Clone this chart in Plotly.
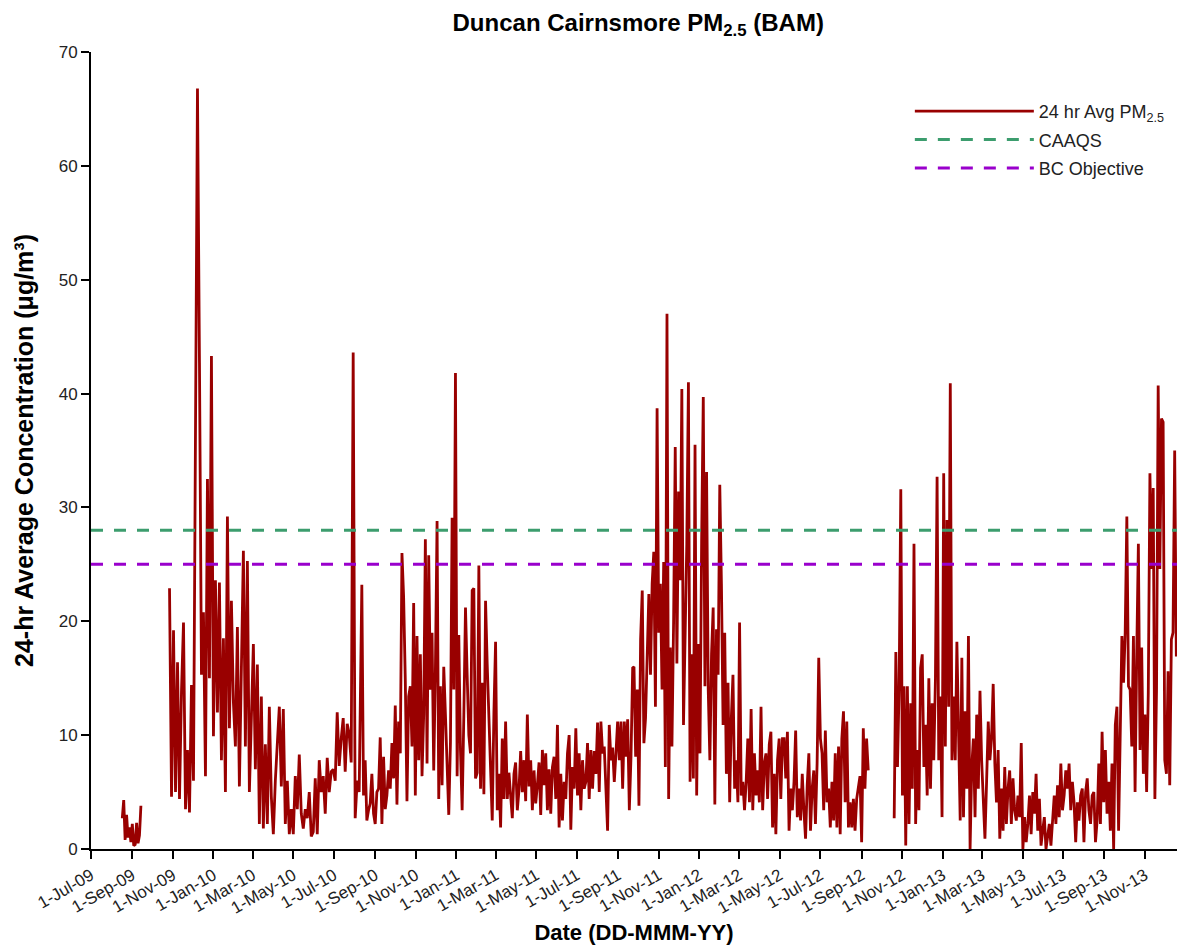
import plotly.graph_objects as go
import pandas as pd

# ---- data (24-hr average PM2.5, µg/m³) ----
seg_a_start, seg_a_end = "2009-08-17", "2009-09-14"
seg_a_values = [2.7, 4.3, 0.8, 3.0, 1.0, 1.9, 0.6, 2.2, 0.3, 0.4, 2.3, 0.5, 1.2, 3.8]

seg_b1_start, seg_b1_end = "2009-10-27", "2010-08-08"
seg_b1_values = [
    22.9, 4.6, 19.2, 5, 16.4, 4.4, 13.9, 19.9, 3.5, 8.7, 3.2, 14.4, 6, 40.4, 66.8, 42.7,
    15.3, 20.8, 6.4, 32.5, 15, 43.3, 9.9, 23.6, 12, 23.4, 7.8, 18.5, 5, 29.2, 10.6, 21.8,
    12.9, 9, 19.5, 5.5, 14.8, 26.2, 9, 25.3, 5, 12.9, 18, 7, 16.2, 2.2, 13.4, 1.8,
    9.2, 2.2, 12.5, 4.6, 1.3, 6, 9, 12.5, 5.5, 12.3, 2.2, 6, 1.3, 3.5, 1.3, 6.4,
    3.5, 8.3, 3.1, 1.8, 3.5, 2.7, 5, 1.1, 1.5, 6.2, 1.3, 7.8, 5, 6.4, 3.1, 8,
    5, 6.8, 7, 6, 12, 7.3, 9.7, 11.5, 6.8, 11, 10.1, 7.6, 43.6, 2.7, 6, 5,
]

seg_b2a_start, seg_b2a_end = "2010-08-12", "2011-09-23"
seg_b2a_values = [
    23.2, 4.7, 7.8, 2.5, 3.4, 4.0, 6.6, 3.1, 2.2, 5.0, 5.3, 9.8, 2.2, 8.1, 3.5, 4.7,
    6.9, 5.3, 9.3, 6.2, 12.6, 3.9, 11.2, 8.4, 26, 22.1, 14.8, 4.2, 13.4, 14.3, 9, 21.6,
    4.7, 18.7, 7.8, 17.1, 6.4, 11.8, 27.2, 7.5, 25.8, 14, 19, 6.9, 15.6, 28.8, 4.4, 14.3,
    5.6, 16, 11.8, 7.8, 3, 9.3, 29.1, 14, 41.8, 6.4, 18.8, 8.7, 3.4, 11.7, 21.2, 15.3,
    10, 8.4, 22.7, 22.9, 6.2, 6.7, 24.9, 5.3, 14.6, 4.8, 21.8, 16.2, 11.8, 8.7, 2.5, 12,
    18.2, 3.4, 6.6, 1.9, 9.7, 4.4, 11.2, 4.4, 6.7, 4.7, 2.7, 6.6, 7.6, 3.4, 5.2, 8.6,
    5, 7.8, 4.2, 11.8, 5.5, 7.8, 3.4, 6.9, 4, 5.6, 7.6, 3, 8.7, 5.6, 8.4, 3.4,
    7, 3.1, 7.2, 8.1, 4.4, 10.9, 1.9, 6.6, 2.5, 5.9, 4.4, 8.4, 10, 1.7, 7.2, 5.3,
    10.6, 4.7, 8.4, 3.4, 7.8, 5.3, 5.9, 9.3, 4.4, 8.7, 5.3, 8.6, 6.6, 11.1, 5, 11.2,
    8.4, 9, 5.8, 1.6, 10.9, 7.8, 8.9, 5.9, 8.4, 11.2, 7.8, 11.2, 5.3, 11.2, 8.1, 11.4,
    3.4, 8.1, 15.9,
]

seg_b2b_start, seg_b2b_end = "2011-09-25", "2012-09-11"
seg_b2b_values = [
    16, 8.1, 14, 3.8, 18.4, 22.7, 9.3, 11.5, 17.1, 22.4, 15.3, 23.3, 26.1, 12.5, 38.7, 19,
    23.3, 14, 25.2, 7.2, 47, 4.4, 17.7, 9, 19.9, 35.3, 16.3, 31.4, 23.6, 40.4, 10.9, 20.2,
    26.8, 41, 5.9, 17.1, 6.2, 35.5, 4.7, 18, 8.4, 27.1, 39.7, 14.3, 33.1, 14, 7.8, 17.1,
    21.2, 3.9, 19.3, 15.3, 32, 23.3, 10.9, 19, 6.6, 14.6, 4.1, 11.5, 15.3, 5.3, 7.8, 4.1,
    19.9, 4.7, 5.9, 3.4, 5.9, 9.7, 4.1, 12.3, 3.4, 8.4, 4.7, 6.9, 4.1, 12.5, 3.4, 7.5,
    8.4, 4.4, 9.2, 10.3, 1.9, 6.6, 1.3, 7.8, 9.7, 4.4, 9.7, 9.7, 6.2, 10.3, 1.6, 5.3,
    3.4, 5.9, 10.4, 2.8, 5.3, 2.5, 6.6, 3.4, 0.9, 5.6, 8.4, 1.6, 5.3, 6.9, 2.2, 7.5,
    16.8, 9.7, 8.4, 3.4, 10.4, 4.1, 5.3, 1.9, 5.9, 2.5, 8.4, 1.9, 9, 1.3, 9.7, 12.1,
    4.1, 11.2, 1.9, 4.1, 1.9, 4.4, 1.6, 4.4, 5.3, 6.4, 0.6, 10.6, 5.3, 9.7, 6.9,
]

seg_c_start, seg_c_end = "2012-10-20", "2013-12-18"
seg_c_values = [
    2.7, 17.3, 7.2, 14.3, 31.6, 4.7, 14.3, 0.3, 14.3, 2.2, 12.8, 5.3, 26.8, 2.2, 8.7, 3.4,
    15.9, 17.1, 7.2, 10.9, 4.7, 15, 5.3, 12.8, 7.8, 15, 32.7, 7.8, 13.4, 2.8, 33, 9,
    28.9, 12.5, 40.9, 7.8, 13.4, 7.8, 18.2, 10.6, 2.5, 16.8, 2.8, 12.1, 5.3, 18.7, 0, 7.2,
    9.7, 2.8, 11.8, 5.3, 13.9, 7.8, 3.4, 0.9, 5.9, 11.2, 7.8, 9.7, 14.5, 7.5, 4.1, 8.7,
    0.9, 5.3, 1.6, 7.2, 2.2, 5.3, 6.9, 2.2, 6.2, 3.4, 2.5, 4.7, 2.8, 9.3, 0, 2.8,
    0.6, 2.2, 4.7, 1.3, 5, 3.1, 6.6, 1.6, 4.4, 0.3, 1.6, 2.8, 0, 1.3, 2.2, 0.3,
    2.8, 4.7, 2.2, 5.6, 2.8, 7.5, 3.4, 4.7, 6.9, 5.3, 7.5, 3.4, 5.9, 4.1, 0.6, 4.1,
    2.5, 4.7, 5.3, 0.6, 5, 6.2, 3.4, 2.2, 4.7, 5, 0.6, 2.5, 7.5, 2.2, 10.3, 4.1,
    8.7, 3.1, 5.9, 1.6, 7.5, 0, 10.9, 12.5, 1.6, 12.5, 18.7, 14.6, 19, 29.2, 14.3, 14,
    9, 18.7, 5, 17.1, 26.8, 8.7, 17.7, 6.6, 11.8, 5, 13.7, 33, 24.6, 31.7, 4.4, 14,
    40.7, 24.6, 37.8, 37.5, 7.8, 6.6, 15.6, 5.6, 18.4, 19, 35, 16.9,
]

caaqs_value = 28
bc_objective_value = 25
x_axis_start, x_axis_end = "2009-07-01", "2013-12-19"

# (start, end, values, break line before this piece)
pieces = [
    (seg_a_start, seg_a_end, seg_a_values, False),
    (seg_b1_start, seg_b1_end, seg_b1_values, True),
    (seg_b2a_start, seg_b2a_end, seg_b2a_values, False),
    (seg_b2b_start, seg_b2b_end, seg_b2b_values, False),
    (seg_c_start, seg_c_end, seg_c_values, True),
]

xs, ys = [], []
for start, end, vals, brk in pieces:
    if brk and xs:
        xs.append(None)
        ys.append(None)
    dates = pd.date_range(start, end, periods=len(vals))
    xs.extend(list(dates))
    ys.extend(vals)

FONT = "Liberation Sans, Arial, sans-serif"
RED = "#990000"
GREEN = "#3c9d6e"
PURPLE = "#9900cc"

fig = go.Figure()
fig.add_trace(go.Scatter(
    x=xs, y=ys, mode="lines", connectgaps=False, legendgroup="a",
    name="24 hr Avg PM<sub>2.5</sub>",
    line=dict(color=RED, width=2.8),
))
fig.add_trace(go.Scatter(
    x=[x_axis_start, x_axis_end], y=[caaqs_value, caaqs_value], mode="lines",
    legendgroup="b",
    name="CAAQS", line=dict(color=GREEN, width=3, dash="12px,11px"),
))
fig.add_trace(go.Scatter(
    x=[x_axis_start, x_axis_end], y=[bc_objective_value, bc_objective_value], mode="lines",
    legendgroup="c",
    name="BC Objective", line=dict(color=PURPLE, width=3, dash="12px,11px"),
))

# The page body keeps the browser's default 8px margin, so the figure is
# sized 8px smaller than the window and margins are offset accordingly.
fig.update_layout(
    width=1178, height=941,
    paper_bgcolor="white", plot_bgcolor="white",
    margin=dict(l=83, r=9, t=44, b=100, autoexpand=False),
    font=dict(family=FONT, color="#111"),
    title=dict(
        text="<b>Duncan Cairnsmore PM<sub>2.5</sub> (BAM)</b>",
        x=0.535, xanchor="center", y=0.984, yanchor="middle",
        font=dict(size=24, color="black", family=FONT),
    ),
    showlegend=True,
    legend=dict(
        x=0.754, y=0.9486, xanchor="left", yanchor="top",
        bgcolor="rgba(0,0,0,0)", font=dict(size=18, color="#222", family=FONT),
        itemwidth=119, tracegroupgap=2,
    ),
    xaxis=dict(
        type="date", range=[x_axis_start, x_axis_end], automargin=False,
        tick0="2009-07-01", dtick="M2", tickformat="%-d-%b-%y",
        tickangle=-30, ticks="outside", ticklen=8, tickwidth=2, tickcolor="black",
        showline=True, linecolor="black", linewidth=2, showgrid=False, zeroline=False,
        tickfont=dict(size=17, color="#222", family=FONT),
        title=dict(text="<b>Date (DD-MMM-YY)</b>", standoff=8,
                   font=dict(size=22, color="black", family=FONT)),
    ),
    yaxis=dict(
        range=[0, 70], dtick=10, ticks="outside", ticklen=8, tickwidth=2, tickcolor="black",
        showline=True, linecolor="black", linewidth=2, showgrid=False, zeroline=False,
        automargin=False,
        tickfont=dict(size=17, color="#222", family=FONT),
        title=dict(text="<b>24-hr Average Concentration (μg/m³)</b>", standoff=18,
                   font=dict(size=25, color="black", family=FONT)),
    ),
)

fig.write_html("out.html")
